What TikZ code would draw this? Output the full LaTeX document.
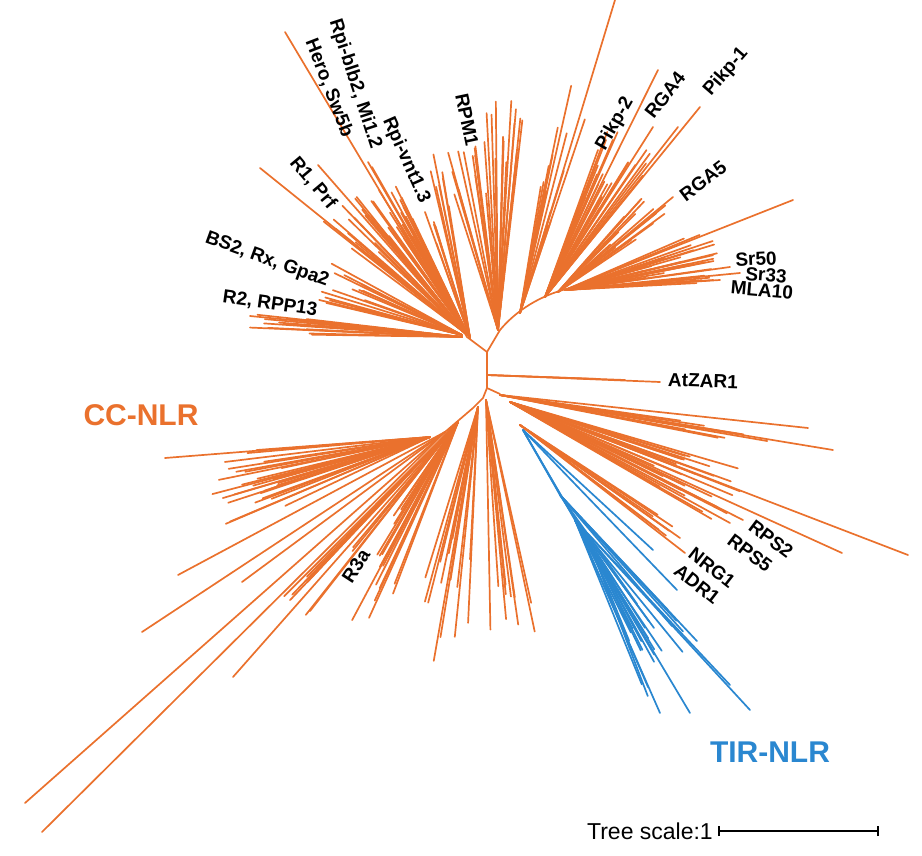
\documentclass[tikz,border=0pt]{standalone}
\usepackage{fontspec}
\setmainfont{Liberation Sans}
\definecolor{treeor}{RGB}{234,113,45}
\definecolor{treebl}{RGB}{42,135,208}
\newcommand\myfan[8]{%
  \foreach \i in {1,...,#7}{%
    \pgfmathsetmacro\aa{#3+rnd*(#4-#3)}%
    \pgfmathsetmacro\rr{#5+rnd*(#6-#5)}%
    \draw[#8] (#1,#2) -- ++({\rr*cos(\aa)},{-\rr*sin(\aa)});
  }}
\tikzset{
  br/.style={treeor,line width=1.7pt,line cap=round},
  bb/.style={treebl,line width=1.7pt,line cap=round},
  lab/.style={font=\fontsize{19}{20}\selectfont\bfseries,inner sep=0pt},
  big/.style={font=\fontsize{30}{32}\selectfont\bfseries,inner sep=0pt}
}
\begin{document}
\begin{tikzpicture}[x=1pt,y=-1pt]
\useasboundingbox (0,0) rectangle (922,856);
\pgfmathsetseed{7}
% backbone
\draw[br] (487,352) -- (487,388);
\draw[br] (487,352) -- (467,337);
\draw[br] (487,352) -- (500,330);
\draw[br] (500,330) .. controls (515,312) and (540,294) .. (575,287);
\draw[br] (487,388) -- (500,394);
\draw[br] (487,388) -- (483,398) -- (473,408) -- (445,432);
% AtZAR1
\draw[br] (487,375) -- (660,382);
\draw[br] (487,375) -- (625,380);
\draw[br] (487,375) -- (600,379);
% upper left
\myfan{462}{337}{173}{180}{140}{215}{14}{br}
\draw[br] (462,337) -- (250,316);
\myfan{462}{335}{148}{167}{100}{150}{16}{br}
\myfan{465}{333}{128}{145}{110}{180}{20}{br}
\draw[br] (465,333) -- (260,168);
\draw[br] (465,333) -- (318,165);
\draw[br] (467,337) -- (285,32);
\myfan{468}{335}{115}{128}{110}{172}{24}{br}
\draw[br] (468,335) -- (368,162);
\draw[br] (468,335) -- (372,167);
\myfan{470}{338}{99}{105}{130}{205}{7}{br}
\myfan{470}{338}{105}{112}{100}{125}{4}{br}
\draw[br] (470,338) -- (425,212);
% RPM1
\myfan{498}{330}{83}{95}{160}{232}{16}{br}
\myfan{498}{330}{95}{108}{130}{185}{12}{br}
% upper right
\myfan{520}{313}{70}{82}{90}{240}{14}{br}
\draw[br] (520,313) -- (615,0);
\myfan{545}{297}{50}{70}{100}{185}{24}{br}
\draw[br] (545,297) -- (658,70);
\draw[br] (545,297) -- (653,127);
\draw[br] (545,297) -- (678,127);
\draw[br] (545,297) -- (700,107);
\draw[br] (545,297) -- (598,150);
\myfan{558}{292}{33}{50}{70}{140}{16}{br}
\draw[br] (558,292) -- (673,197);
\myfan{565}{290}{2}{24}{70}{160}{30}{br}
\draw[br] (565,290) -- (793,200);
\draw[br] (565,290) -- (730,267);
\draw[br] (565,290) -- (740,273);
\draw[br] (565,290) -- (720,280);
% lower right orange
\myfan{500}{395}{-12}{-4}{180}{300}{8}{br}
\draw[br] (500,395) -- (808,428);
\draw[br] (500,395) -- (833,450);
\myfan{510}{402}{-22}{-14}{160}{300}{12}{br}
\myfan{510}{402}{-31}{-22}{150}{245}{14}{br}
\draw[br] (510,402) -- (908,555);
\draw[br] (510,402) -- (842,553);
\draw[br] (510,402) -- (743,520);
\draw[br] (510,402) -- (730,523);
\myfan{520}{425}{-38}{-32}{140}{190}{6}{br}
\draw[br] (520,425) -- (680,538);
\draw[br] (520,425) -- (685,553);
% TIR-NLR
\draw[bb] (523,430) -- (560,495);
\draw[bb] (523,430) -- (575,520);
\draw[bb] (523,430) -- (590,545);
\draw[bb] (523,430) -- (653,550);
\draw[bb] (523,430) -- (677,590);
\myfan{560}{495}{-62}{-45}{130}{220}{7}{bb}
\myfan{575}{520}{-68}{-50}{120}{200}{9}{bb}
\myfan{590}{545}{-70}{-55}{100}{170}{8}{bb}
\draw[bb] (575,520) -- (750,710);
\draw[bb] (575,520) -- (660,713);
\draw[bb] (575,520) -- (690,713);
\draw[bb] (575,520) -- (730,685);
% lower left
\myfan{486}{400}{-89}{-75}{180}{280}{10}{br}
\myfan{478}{407}{252}{268}{130}{265}{14}{br}
\myfan{458}{422}{225}{232}{150}{260}{10}{br}
\myfan{458}{422}{232}{238}{100}{140}{4}{br}
\myfan{458}{422}{238}{250}{150}{225}{12}{br}
\draw[br] (458,422) -- (233,677);
\draw[br] (445,432) -- (25,803);
\draw[br] (445,432) -- (42,832);
\draw[br] (445,432) -- (142,632);
\draw[br] (445,432) -- (178,575);
\draw[br] (445,432) -- (242,582);
\myfan{430}{437}{183}{207}{150}{225}{28}{br}
\draw[br] (430,437) -- (165,458);
% labels
\node[lab,rotate=-72] (rpiblb) at (355,84) {Rpi-blb2, Mi1.2};
\node[lab,rotate=-69] (hero) at (329,88) {Hero, Sw5b};
\node[lab,rotate=-66] (rpivnt) at (406,160) {Rpi-vnt1.3};
\node[lab,rotate=-78] (rpm1) at (467,120) {RPM1};
\node[lab,rotate=-50] (r1) at (313,183) {R1, Prf};
\node[lab,rotate=-20] (bs2) at (267,260) {BS2, Rx, Gpa2};
\node[lab,rotate=-8] (r2) at (270,304) {R2, RPP13};
\node[lab,rotate=60] (pikp2) at (615,124) {Pikp-2};
\node[lab,rotate=52] (rga4) at (665,95) {RGA4};
\node[lab,rotate=49] (pikp1) at (726,72) {Pikp-1};
\node[lab,rotate=37] (rga5) at (703,181) {RGA5};
\node[lab,rotate=3] (sr50) at (756,259) {Sr50};
\node[lab,rotate=-4] (sr33) at (766,275) {Sr33};
\node[lab,rotate=-5] (mla10) at (762,290) {MLA10};
\node[lab,rotate=-2] (atzar) at (703,381) {AtZAR1};
\node[lab,rotate=-37] (rps2) at (771,539) {RPS2};
\node[lab,rotate=-37] (rps5) at (750,553) {RPS5};
\node[lab,rotate=-38] (nrg1) at (712,568) {NRG1};
\node[lab,rotate=-38] (adr1) at (697,584) {ADR1};
\node[lab,rotate=57] (r3a) at (356,566) {R3a};
\node[big,treeor] (cc) at (141,415) {CC-NLR};
\node[big,treebl] (tir) at (770,752) {TIR-NLR};
% scale
\node[font=\fontsize{23}{24}\selectfont,inner sep=0pt,anchor=east] (ts) at (713,831) {Tree scale:1};
\coordinate (sa) at (719,831);
\coordinate (sb) at (878,831);
\draw[line width=2.5pt] (sa) -- (sb);
\draw[line width=2.5pt] ([yshift=-5]sa) -- ([yshift=5]sa);
\draw[line width=2.5pt] ([yshift=-5]sb) -- ([yshift=5]sb);
\end{tikzpicture}
\end{document}
